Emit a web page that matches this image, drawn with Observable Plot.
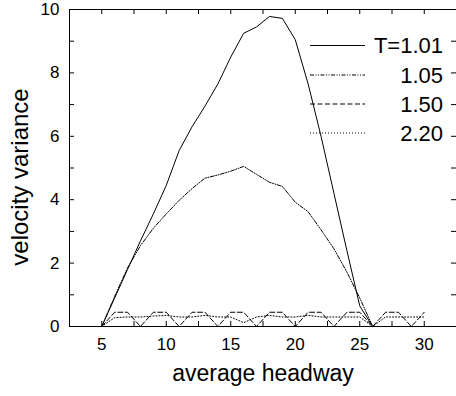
<!DOCTYPE html>
<html>
<head>
<meta charset="utf-8">
<script src="https://cdn.jsdelivr.net/npm/d3@7"></script>
<script src="https://cdn.jsdelivr.net/npm/@observablehq/plot@0.6"></script>
<style>
  html, body { margin: 0; padding: 0; background: #fff; overflow: hidden; }
  #chart { position: relative; width: 456px; height: 396px; }
</style>
</head>
<body>
<div id="chart"></div>
<script>
const headway = [5,6,7,8,9,10,11,12,13,14,15,16,17,18,19,20,21,22,23,24,25,26,27,28,29,30];
const varT101 = [0,0.9,1.8,2.7,3.55,4.45,5.55,6.3,6.95,7.65,8.5,9.25,9.45,9.78,9.72,9.05,7.65,6.0,4.2,2.4,0.65,0,0,0,0,0];
const varT105 = [0,0.95,1.85,2.55,3.1,3.55,3.98,4.35,4.68,4.78,4.9,5.05,4.8,4.55,4.42,3.92,3.62,3.05,2.45,1.72,0.9,0,0,0,0,0];
const varT150 = [0,0.45,0.45,0,0.45,0.45,0,0.45,0.45,0,0.45,0.45,0,0.45,0.45,0,0.45,0.45,0,0.45,0.45,0,0.45,0.45,0,0.45];
const varT220 = [0,0.28,0.3,0.3,0.33,0.35,0.3,0.3,0.35,0.3,0.3,0.12,0.3,0.35,0.3,0.3,0.35,0.3,0.3,0.3,0.3,0,0.3,0.3,0.3,0.3];
const seriesNames = ["T=1.01","1.05","1.50","2.20"];
const xTickLabels = [5,10,15,20,25,30];
const xTickMarks = [2.5,5,7.5,10,12.5,15,17.5,20,22.5,25,27.5,30,32.5];
const yTickLabels = [0,2,4,6,8,10];
const yTickMarks = [0,1,2,3,4,5,6,7,8,9,10];
const xLabel = "average headway";
const yLabel = "velocity variance";

const allSeries = [varT101, varT105, varT150, varT220];
const dashes = [null, "4,1.5,1,1.5,1,1.5", "5,2.5", "1,2"];

const W = 456, H = 396;
const mL = 69, mR = 0, mT = 9, mB = 70;
const frameW = W - mL - mR, frameH = H - mT - mB;
const tick = 5;
const font = "'Liberation Sans', Arial, sans-serif";

const lineMarks = allSeries.map((vals, i) =>
  Plot.line(headway.map((h, j) => ({h, v: vals[j]})), {
    x: "h", y: "v", stroke: "black", strokeWidth: 1,
    strokeDasharray: dashes[i]
  })
);

const plot = Plot.plot({
  width: W, height: H,
  marginLeft: mL, marginRight: mR, marginTop: mT, marginBottom: mB,
  style: {fontFamily: font, color: "black", background: "white"},
  x: {domain: [2.5, 32.5]},
  y: {domain: [0, 10]},
  marks: [
    ...lineMarks,
    Plot.frame({stroke: "black"}),
    Plot.tickX(xTickMarks, {x: d => d, insetTop: frameH - tick, stroke: "black"}),
    Plot.tickX(xTickMarks, {x: d => d, insetBottom: frameH - tick, stroke: "black"}),
    Plot.tickY(yTickMarks, {y: d => d, insetRight: frameW - tick, stroke: "black"}),
    Plot.tickY(yTickMarks, {y: d => d, insetLeft: frameW - tick, stroke: "black"}),
    Plot.axisX(xTickLabels, {tickSize: 0, tickPadding: 11, fontSize: 17, label: null}),
    Plot.axisY(yTickLabels, {tickSize: 0, tickPadding: 10, fontSize: 17, label: null}),
    Plot.text([xLabel], {frameAnchor: "bottom", dy: 54, fontSize: 23}),
    Plot.text([yLabel], {frameAnchor: "left", textAnchor: "middle", dx: -49, dy: 9, rotate: -90, fontSize: 24})
  ]
});

document.getElementById("chart").appendChild(plot);

// legend (inside plot, top right)
const svg = d3.select(plot);
const lg = svg.append("g").attr("class", "legend");
const rowY = [45.5, 75, 104, 133];
seriesNames.forEach((name, i) => {
  lg.append("line")
    .attr("x1", 310).attr("x2", 365)
    .attr("y1", rowY[i]).attr("y2", rowY[i])
    .attr("stroke", "black").attr("stroke-width", 1)
    .attr("stroke-dasharray", dashes[i]);
  lg.append("text")
    .attr("x", 443).attr("y", rowY[i])
    .attr("text-anchor", "end").attr("dy", "0.36em")
    .attr("font-size", 22)
    .attr("font-family", font)
    .attr("fill", "black")
    .text(name);
});
</script>
</body>
</html>
